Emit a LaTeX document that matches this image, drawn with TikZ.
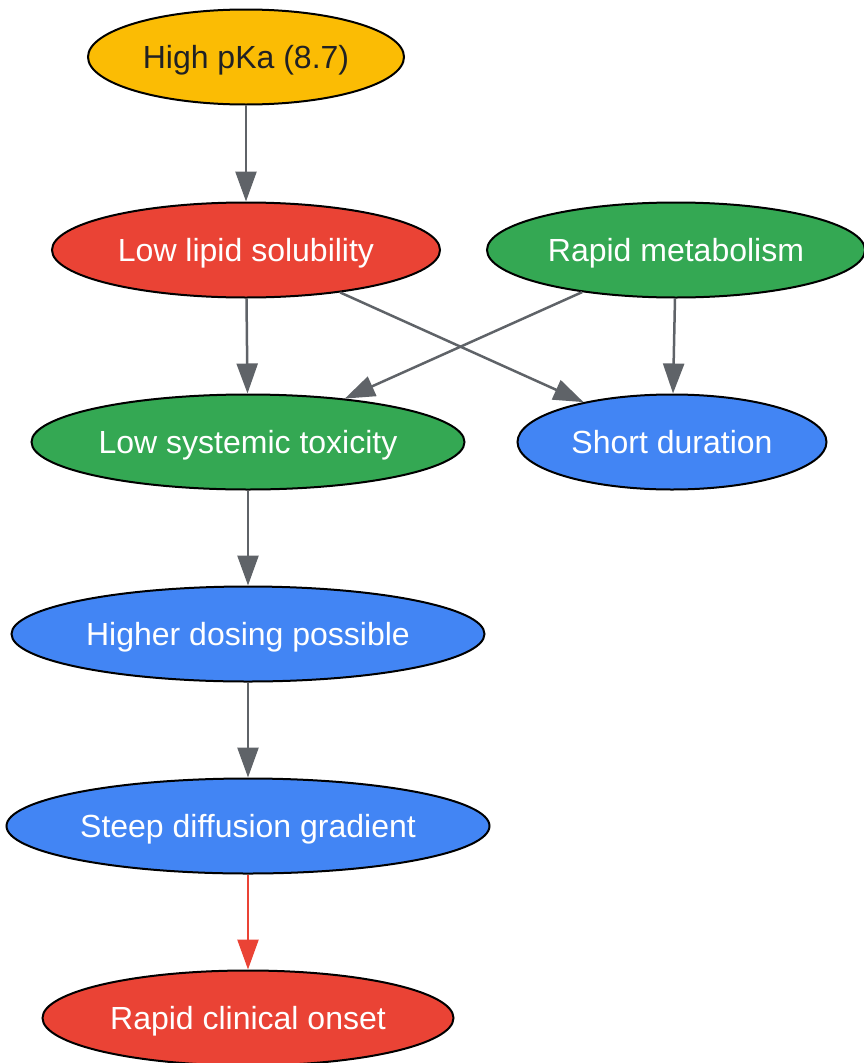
\documentclass[tikz,border=0pt]{standalone}
\usepackage{fontspec}
\setmainfont{Liberation Sans}
\usetikzlibrary{shapes.geometric,arrows.meta}
\definecolor{gyellow}{HTML}{FBBC04}
\definecolor{gred}{HTML}{EA4335}
\definecolor{ggreen}{HTML}{34A853}
\definecolor{gblue}{HTML}{4285F4}
\definecolor{ggrey}{HTML}{5F6368}
\definecolor{gdark}{HTML}{202124}
\begin{document}
\begin{tikzpicture}[x=1pt,y=-1pt,
  blob/.style={ellipse,draw=black,line width=2pt,inner sep=0pt,
    minimum height=95pt,text=white,font=\fontsize{32}{37}\selectfont,
    text height=23.5pt,text depth=1pt},
  link/.style={draw=ggrey,line width=2.5pt,-{Triangle[length=30pt,width=21pt]}}]
\useasboundingbox (0,0) rectangle (863,1063);
\node[blob,fill=gyellow,text=gdark,minimum width=316pt] (pka) at (246,57) {High pKa (8.7)};
\node[blob,fill=gred,minimum width=388pt] (lipid) at (246,250) {Low lipid solubility};
\node[blob,fill=ggreen,minimum width=378pt] (metab) at (676,250) {Rapid metabolism};
\node[blob,fill=ggreen,minimum width=433pt] (tox) at (248,442) {Low systemic toxicity};
\node[blob,fill=gblue,minimum width=309pt] (short) at (672,442) {Short duration};
\node[blob,fill=gblue,minimum width=473pt] (dose) at (248,634) {Higher dosing possible};
\node[blob,fill=gblue,minimum width=483pt] (grad) at (248,826) {Steep diffusion gradient};
\node[blob,fill=gred,minimum width=411pt] (onset) at (248,1018) {Rapid clinical onset};
% connectors
\draw[link] (pka) -- (lipid);
\draw[link] (lipid) -- (tox);
\draw[link] (lipid) -- (short);
\draw[link] (metab) -- (tox);
\draw[link] (metab) -- (short);
\draw[link] (tox) -- (dose);
\draw[link] (dose) -- (grad);
\draw[link,draw=gred,fill=gred] (grad) -- (onset);
\end{tikzpicture}
\end{document}
